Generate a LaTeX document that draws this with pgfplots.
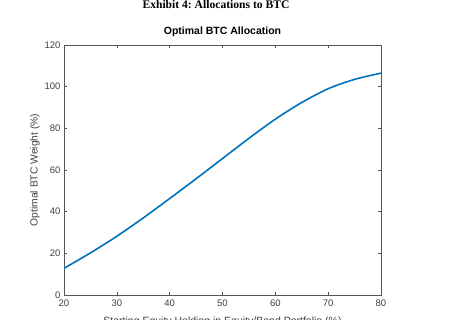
\documentclass[border=0pt]{standalone}
\usepackage{fontspec}
\setmainfont{Liberation Sans}
\newfontfamily\timesfont{Liberation Serif}
\usepackage{pgfplots}
\pgfplotsset{compat=1.18}
\definecolor{mblue}{HTML}{0072BD}
\definecolor{axgray}{HTML}{555555}
\definecolor{txtgray}{HTML}{404040}
\frenchspacing
\begin{document}
\begin{tikzpicture}
\clip (0,0) rectangle (450bp,320bp);
\node[font=\timesfont\bfseries\fontsize{11.6bp}{13bp}\selectfont] at (216bp,315bp) {Exhibit 4: Allocations to BTC};
\begin{axis}[
  at={(64bp,25bp)}, anchor=south west,
  scale only axis, width=317bp, height=250bp,
  xmin=20, xmax=80, ymin=0, ymax=120,
  xtick={20,30,...,80}, ytick={0,20,...,120},
  tick align=inside, tick pos=both,
  major tick length=3bp,
  axis line style={axgray, line width=0.5bp},
  tick style={axgray, line width=0.5bp},
  /pgf/number format/assume math mode=true,
  ticklabel style={font=\fontsize{9.5bp}{11bp}\selectfont, text=txtgray},
  xticklabel style={yshift=-1.5bp},
  title={Optimal BTC Allocation},
  title style={font=\bfseries\fontsize{10.5bp}{12bp}\selectfont, at={(axis description cs:0.5,1)}, anchor=center, yshift=7.5bp},
  ylabel={Optimal BTC Weight (\%)},
  ylabel style={font=\fontsize{10.3bp}{12bp}\selectfont, text=txtgray, at={(axis description cs:-0.0915,0.5)}, anchor=center},
  xlabel={Starting Equity Holding in Equity/Bond Portfolio (\%)},
  xlabel style={font=\fontsize{10.5bp}{12bp}\selectfont, text=txtgray, at={(axis description cs:0.5,0)}, anchor=north, yshift=-18bp},
]
\addplot[mblue, line width=1.6bp, smooth] coordinates {
(20,12.8) (25,20.2) (30,28.2) (35,37.0) (40,46.3) (45,55.8) (50,65.5)
(55,75.2) (60,84.4) (65,92.4) (70,99.0) (75,103.5) (80,106.5)
};
\end{axis}
\end{tikzpicture}
\end{document}
